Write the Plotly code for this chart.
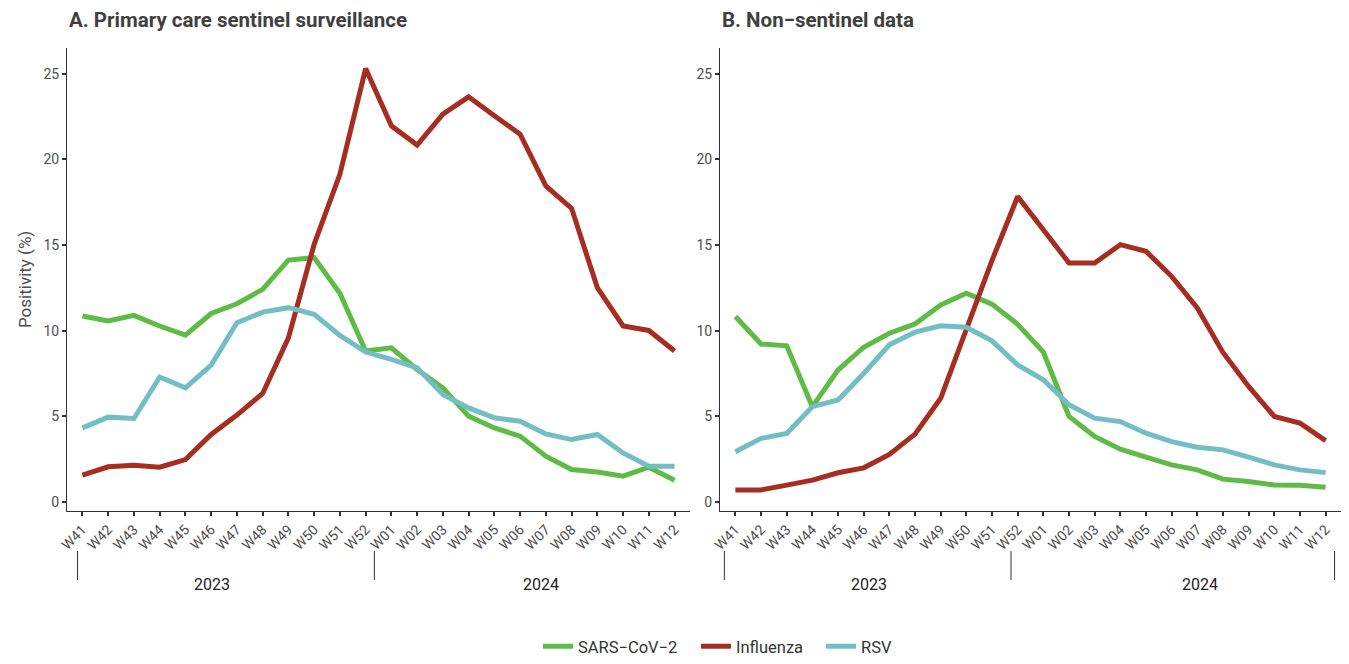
import plotly.graph_objects as go

weeks = ["W41", "W42", "W43", "W44", "W45", "W46", "W47", "W48", "W49", "W50", "W51", "W52",
         "W01", "W02", "W03", "W04", "W05", "W06", "W07", "W08", "W09", "W10", "W11", "W12"]

# Panel A: primary care sentinel surveillance
a_sars = [10.85, 10.56, 10.89, 10.27, 9.74, 11.0, 11.57, 12.41, 14.12, 14.26, 12.18, 8.81,
          9.0, 7.73, 6.66, 5.01, 4.32, 3.84, 2.67, 1.89, 1.75, 1.5, 2.03, 1.27]
a_flu = [1.56, 2.05, 2.14, 2.03, 2.47, 3.94, 5.07, 6.33, 9.58, 15.04, 19.13, 25.3,
         21.96, 20.83, 22.64, 23.65, 22.54, 21.47, 18.45, 17.14, 12.51, 10.27, 10.01, 8.81]
a_rsv = [4.32, 4.95, 4.87, 7.29, 6.66, 7.99, 10.46, 11.08, 11.34, 10.95, 9.72, 8.75,
         8.32, 7.83, 6.27, 5.49, 4.91, 4.71, 3.97, 3.64, 3.94, 2.86, 2.08, 2.08]

# Panel B: non-sentinel data
b_sars = [10.82, 9.22, 9.11, 5.56, 7.70, 9.03, 9.85, 10.39, 11.5, 12.19, 11.55, 10.37,
          8.75, 4.99, 3.82, 3.08, 2.61, 2.16, 1.87, 1.33, 1.19, 0.99, 0.97, 0.86]
b_flu = [0.70, 0.70, 0.98, 1.27, 1.70, 1.99, 2.77, 3.96, 6.05, 10.04, 14.1, 17.83,
         15.9, 13.95, 13.95, 15.02, 14.63, 13.17, 11.32, 8.73, 6.74, 4.99, 4.6, 3.58]
b_rsv = [2.93, 3.71, 4.0, 5.56, 5.95, 7.5, 9.17, 9.91, 10.28, 10.2, 9.4, 8.0,
         7.13, 5.67, 4.89, 4.69, 4.01, 3.52, 3.19, 3.04, 2.61, 2.16, 1.87, 1.71]

series_names = ["SARS−CoV−2", "Influenza", "RSV"]
colors = ["#5EBB46", "#A52D21", "#73BDC4"]

titles = ["A. Primary care sentinel surveillance", "B. Non−sentinel data"]
y_ticks = [0, 5, 10, 15, 20, 25]
years = ["2023", "2024"]
# year bracket separators and label positions (in category units), per panel
year_seps = [[-0.19, 11.34, 23.97], [-0.43, 10.74, 23.35]]
year_label_pos = [[5.05, 17.83], [5.22, 18.09]]

W, H = 1349, 664
FONT = "Roboto, sans-serif"
TXT = "#4D4D4D"
AX = "#333333"

fig = go.Figure()

legend_ids = ["legend", "legend2", "legend3"]
panels = [(a_sars, a_flu, a_rsv), (b_sars, b_flu, b_rsv)]
for p, data in enumerate(panels):
    xa = "x" if p == 0 else "x2"
    ya = "y" if p == 0 else "y2"
    for k, vals in enumerate(data):
        fig.add_trace(go.Scatter(
            x=weeks, y=vals, mode="lines", name=series_names[k],
            line=dict(color=colors[k], width=5),
            xaxis=xa, yaxis=ya, legendgroup=series_names[k], showlegend=(p == 0),
            legend=legend_ids[k],
        ))

def px_x(v):
    return v / W

def px_y(v):
    return (H - v) / H

x_domains = [[px_x(67), px_x(690)], [px_x(720), px_x(1341)]]
y_domain = [px_y(511), px_y(48)]

axis_common = dict(
    showline=True, linecolor=AX, linewidth=1, ticks="outside", ticklen=4,
    tickcolor=AX, tickwidth=2, showgrid=False, zeroline=False, automargin=False,
    tickfont=dict(family=FONT, size=14, color=TXT),
)

layout = dict(
    width=W, height=H, margin=dict(l=0, r=0, t=0, b=0, autoexpand=False),
    paper_bgcolor="white", plot_bgcolor="white",
    font=dict(family=FONT, color=TXT),
    showlegend=True,
)
legend_x = [543, 701, 826]
for k, lid in enumerate(legend_ids):
    layout[lid] = dict(orientation="h", x=px_x(legend_x[k] - 5), xanchor="left",
                       xref="container", yref="container",
                       y=0.0, yanchor="bottom",
                       font=dict(family=FONT, size=16.5, color="#333333"),
                       itemwidth=30, bgcolor="rgba(0,0,0,0)")
for p in range(2):
    sx = "" if p == 0 else "2"
    layout["xaxis" + sx] = dict(axis_common, domain=x_domains[p], anchor="y" + sx,
                                type="category", categoryorder="array", categoryarray=weeks,
                                range=[-0.6, 23.6], tickangle=-45)
    layout["yaxis" + sx] = dict(axis_common, domain=y_domain, anchor="x" + sx,
                                range=[-0.53, 26.5], tickvals=y_ticks,
                                ticktext=[str(t) for t in y_ticks])
fig.update_layout(**layout)

annotations = []
shapes = []
title_x = [67, 720]
for p in range(2):
    annotations.append(dict(
        text="<b>" + titles[p] + "</b>", xref="paper", yref="paper",
        x=px_x(title_x[p]), y=px_y(20), xanchor="left", yanchor="middle",
        showarrow=False, font=dict(family=FONT, size=20.5, color="#404040")))
    xr = "x" if p == 0 else "x2"
    for s in year_seps[p]:
        shapes.append(dict(type="line", xref=xr, yref="paper", x0=s, x1=s,
                           y0=px_y(551), y1=px_y(580), line=dict(color=AX, width=1)))
    for yl, pos in zip(years, year_label_pos[p]):
        annotations.append(dict(
            text=yl, xref=xr, yref="paper", x=pos, y=px_y(584), xanchor="center",
            yanchor="middle", showarrow=False,
            font=dict(family=FONT, size=16, color="#222222")))

annotations.append(dict(
    text="Positivity (%)", xref="paper", yref="paper", x=px_x(25), y=px_y(280),
    xanchor="center", yanchor="middle", textangle=-90, showarrow=False,
    font=dict(family=FONT, size=17, color=TXT)))

fig.update_layout(annotations=annotations, shapes=shapes)
fig.write_html("out.html")
